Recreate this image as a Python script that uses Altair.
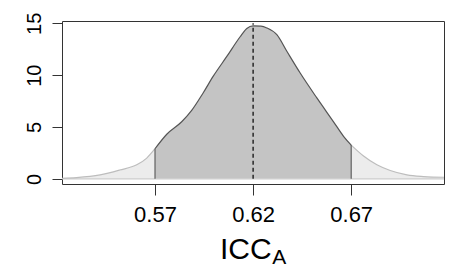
import altair as alt
import pandas as pd

# density curve
x_vals = [0.5226, 0.530, 0.542, 0.552, 0.5607, 0.5658, 0.570, 0.576, 0.5836, 0.5887,
          0.5946, 0.5997, 0.6066, 0.6134, 0.6168, 0.620, 0.624, 0.627, 0.6321, 0.6372,
          0.644, 0.6525, 0.661, 0.6661, 0.670, 0.6763, 0.6831, 0.6899, 0.6984, 0.7069, 0.7173]
dens_vals = [0.05, 0.12, 0.38, 0.85, 1.35, 2.0, 2.9, 4.3, 5.5, 6.6,
             8.3, 9.9, 11.8, 13.7, 14.5, 14.75, 14.72, 14.55, 13.9, 12.3,
             10.2, 7.8, 5.5, 4.1, 3.25, 2.2, 1.35, 0.8, 0.38, 0.22, 0.15]
ci_bounds = [0.57, 0.67]
point_est = 0.62
x_ticks = [0.57, 0.62, 0.67]
y_ticks = [0, 5, 10, 15]

rows = []
for x, d in zip(x_vals, dens_vals):
    if x <= ci_bounds[0]:
        rows.append({"x": x, "d": d, "part": "left"})
    if ci_bounds[0] <= x <= ci_bounds[1]:
        rows.append({"x": x, "d": d, "part": "mid"})
    if x >= ci_bounds[1]:
        rows.append({"x": x, "d": d, "part": "right"})
df = pd.DataFrame(rows)

bounds_df = pd.DataFrame({"x": ci_bounds,
                          "d": [dens_vals[x_vals.index(b)] for b in ci_bounds],
                          "z": [0, 0]})
base_df = pd.DataFrame({"x": [x_vals[0]], "x2": [x_vals[-1]], "y": [0]})
est_df = pd.DataFrame({"x": [point_est], "y": [0], "y2": [15]})

xscale = alt.Scale(domain=[0.5226, 0.7173], nice=False, zero=False)
yscale = alt.Scale(domain=[-0.5, 15.22], nice=False, zero=False)

xaxis = alt.Axis(values=x_ticks, format=".2f", title=None, grid=False, domain=False,
                 tickSize=11, tickColor="#333", labelFontSize=22, labelColor="black",
                 labelBaseline="alphabetic", labelPadding=26, labelFont="Liberation Sans")
yaxis = alt.Axis(values=y_ticks, title=None, grid=False, domain=False,
                 tickSize=10, tickColor="#333", labelFontSize=20, labelColor="black",
                 labelAngle=270, labelAlign="center", labelBaseline="alphabetic",
                 labelPadding=12, labelFont="Liberation Sans")

base = alt.Chart(df)


def area_layer(part, fill, axes=False):
    if axes:
        enc_x = alt.X("x:Q", scale=xscale, axis=xaxis)
        enc_y = alt.Y("d:Q", scale=yscale, axis=yaxis, stack=None)
    else:
        enc_x = alt.X("x:Q", scale=xscale)
        enc_y = alt.Y("d:Q", scale=yscale, stack=None)
    return base.transform_filter(alt.datum.part == part).mark_area(
        interpolate="monotone", clip=True, color=fill
    ).encode(x=enc_x, y=enc_y, y2=alt.Y2(datum=0))


def line_layer(part, stroke, width):
    return base.transform_filter(alt.datum.part == part).mark_line(
        interpolate="monotone", clip=True, color=stroke, strokeWidth=width
    ).encode(x=alt.X("x:Q", scale=xscale), y=alt.Y("d:Q", scale=yscale))


baseline = alt.Chart(base_df).mark_rule(color="#cccccc", strokeWidth=1.2, clip=True).encode(
    x=alt.X("x:Q", scale=xscale), x2="x2:Q", y=alt.Y("y:Q", scale=yscale)
)

edges = alt.Chart(bounds_df).mark_rule(color="#555555", strokeWidth=1.1).encode(
    x=alt.X("x:Q", scale=xscale), y=alt.Y("z:Q", scale=yscale), y2="d:Q"
)

est = alt.Chart(est_df).mark_rule(color="black", strokeWidth=1.2, strokeDash=[4, 3]).encode(
    x=alt.X("x:Q", scale=xscale), y=alt.Y("y:Q", scale=yscale), y2="y2:Q"
)

title_main = alt.Chart(pd.DataFrame({"t": ["ICC"]})).mark_text(
    fontSize=30, font="Liberation Sans", align="right", baseline="alphabetic", color="black"
).encode(text="t:N", x=alt.value(209.7), y=alt.value(237.5))

title_sub = alt.Chart(pd.DataFrame({"t": ["A"]})).mark_text(
    fontSize=21, font="Liberation Sans", align="left", baseline="alphabetic", color="black"
).encode(text="t:N", x=alt.value(210.2), y=alt.value(242.5))

chart = alt.layer(
    area_layer("mid", "#c4c4c4", axes=True),
    area_layer("left", "#ececec"),
    area_layer("right", "#ececec"),
    baseline,
    line_layer("left", "#bdbdbd", 1.2),
    line_layer("right", "#bdbdbd", 1.2),
    line_layer("mid", "#555555", 1.2),
    edges, est, title_main, title_sub,
).properties(
    width=382, height=163,
    autosize=alt.AutoSizeParams(type="none"),
    padding={"left": 54, "top": 13, "right": 12, "bottom": 83},
    background="white",
).configure_view(stroke="#333333", strokeWidth=1)

chart.save("out.html", embed_options={"renderer": "svg", "actions": False})
